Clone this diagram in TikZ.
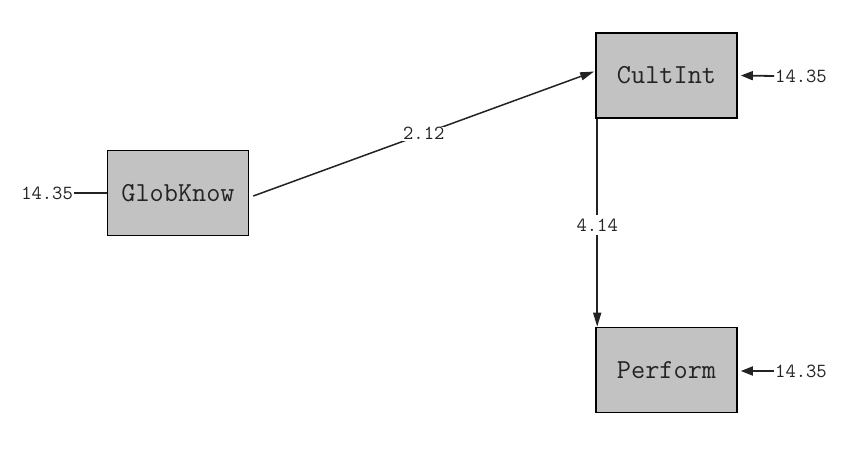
\documentclass[tikz,border=0pt]{standalone}
\usepackage{fontspec}
\usetikzlibrary{arrows.meta}
\definecolor{boxfill}{RGB}{194,194,194}
\definecolor{ink}{RGB}{35,35,35}
\begin{document}
\begin{tikzpicture}[x=1pt,y=-1pt,
  var/.style={draw=black, line width=1.6pt, fill=boxfill, minimum width=141pt, minimum height=85pt, inner sep=0pt, font=\ttfamily\fontsize{27.5}{27.5}\selectfont, text=ink},
  lbl/.style={font=\ttfamily\fontsize{20}{20}\selectfont, text=ink, inner sep=1pt},
  path/.style={draw=ink, line width=1.5pt, -{Triangle[length=14pt,width=8pt]}},
  res/.style={draw=ink, line width=1.8pt, -{Triangle[length=12pt,width=9pt]}},
]
\useasboundingbox (0,0) rectangle (850,462);
\fill[white] (0,0) rectangle (850,462);
\node[var] (glob) at (178,193) {GlobKnow};
\node[var] (cult) at (666.5,75.5) {CultInt};
\node[var] (perf) at (666.5,370) {Perform};
\node[lbl, anchor=east] (eg) at (74,193) {14.35};
\node[lbl, anchor=west] (ec) at (774,76) {14.35};
\node[lbl, anchor=west] (ep) at (774,371) {14.35};
\draw[draw=ink, line width=1.6pt] (eg.east) -- (glob.west);
\draw[res] (ec.west) -- ([xshift=3pt]cult.east);
\draw[res] (ep.west) -- ([xshift=3pt]perf.east|-ep.west);
\coordinate (gs) at ([xshift=4pt,yshift=-3pt]glob.east);
\coordinate (cs) at ([xshift=-1pt,yshift=4pt]cult.west);
\draw[path] (gs) -- node[lbl, fill=white, pos=0.5] {2.12} (cs);
\coordinate (ct) at ([xshift=2pt]cult.south west);
\coordinate (pt) at ([xshift=2pt]perf.north west);
\draw[path] (ct) -- node[lbl, fill=white, pos=0.51, inner ysep=4pt] {4.14} (pt);
\end{tikzpicture}
\end{document}
